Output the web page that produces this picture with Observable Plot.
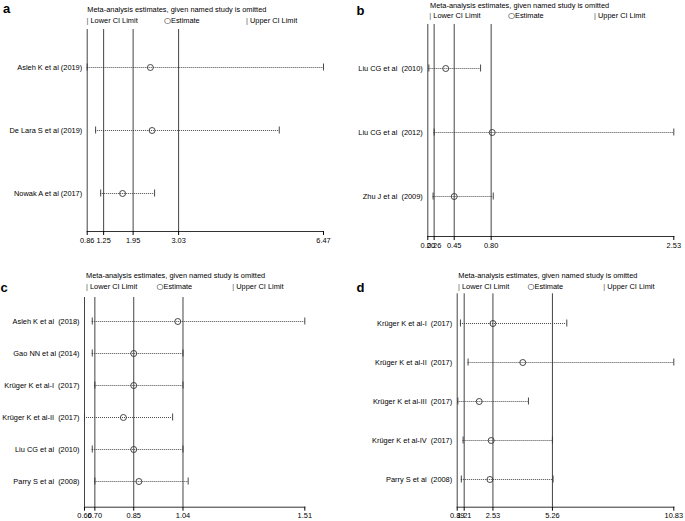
<!DOCTYPE html>
<html><head><meta charset="utf-8">
<script src="https://cdn.jsdelivr.net/npm/d3@7"></script>
<script src="https://cdn.jsdelivr.net/npm/@observablehq/plot@0.6"></script>
<style>
body{margin:0;background:#fff;}
#root{position:relative;width:685px;height:521px;overflow:hidden;font-family:"Liberation Sans",Arial,Helvetica,sans-serif;color:#000;background:#fff;}
.t{position:absolute;white-space:pre;font-size:7.4px;line-height:7.4px;}
.t .c{font-family:"DejaVu Sans",sans-serif;font-size:8px;}
.lab{position:absolute;font-weight:bold;font-size:13px;line-height:13px;}
#root svg{position:absolute;}
</style></head><body><div id="root"></div>
<script>
// Panel a
const studiesA = ["Asleh K et al (2019)", "De Lara S et al (2019)", "Nowak A et al (2017)"];
const estA = [2.36, 2.40, 1.70];
const lowerA = [0.86, 1.06, 1.18];
const upperA = [6.47, 5.42, 2.46];
const ticksA = [0.86, 1.25, 1.95, 3.03, 6.47];
// Panel b
const studiesB = ["Liu CG et al\u00a0 (2010)", "Liu CG et al\u00a0 (2012)", "Zhu J et al\u00a0 (2009)"];
const estB = [0.37, 0.81, 0.45];
const lowerB = [0.21, 0.26, 0.25];
const upperB = [0.70, 2.53, 0.82];
const ticksB = [0.20, 0.26, 0.45, 0.80, 2.53];
// Panel c
const studiesC = ["Asleh K et al\u00a0 (2018)", "Gao NN et al (2014)", "Krüger K et al-I\u00a0 (2017)", "Krüger K et al-II\u00a0 (2017)", "Liu CG et al\u00a0 (2010)", "Parry S et al\u00a0 (2008)"];
const estC = [1.02, 0.85, 0.85, 0.81, 0.85, 0.87];
const lowerC = [0.69, 0.69, 0.70, 0.66, 0.69, 0.70];
const upperC = [1.51, 1.04, 1.04, 1.00, 1.04, 1.06];
const ticksC = [0.66, 0.70, 0.85, 1.04, 1.51];
// Panel d
const studiesD = ["Krüger K et al-I\u00a0 (2017)", "Krüger K et al-II\u00a0 (2017)", "Krüger K et al-III\u00a0 (2017)", "Krüger K et al-IV\u00a0 (2017)", "Parry S et al\u00a0 (2008)"];
const estD = [2.53, 3.90, 1.90, 2.45, 2.39];
const lowerD = [1.04, 1.39, 0.92, 1.16, 1.08];
const upperD = [5.92, 10.83, 4.16, 5.26, 5.29];
const ticksD = [0.89, 1.21, 2.53, 5.26, 10.83];

const titleText = "Meta-analysis estimates, given named study is omitted";
const legendSym = ["|", "\u25CB", "|"];
const legendText = [" Lower CI Limit", "Estimate", " Upper CI Limit"];
const letters = ["a", "b", "c", "d"];

const panels = [
  {studies: studiesA, est: estA, lower: lowerA, upper: upperA, ticks: ticksA,
   left: 0, top: 0, width: 340, height: 260, mL: 86.7, mR: 17, mT: 29, mB: 29, rows: [35, 224.7],
   titleX: 87.3, titleY: 10, legY: 20.3, legX: [86.5, 164, 246], letX: 3, letY: 13.3},
  {studies: studiesB, est: estB, lower: lowerB, upper: upperB, ticks: ticksB,
   left: 340, top: 0, width: 345, height: 260, mL: 87.3, mR: 11.7, mT: 24, mB: 24, rows: [35, 228.7],
   titleX: 430, titleY: 5.3, legY: 15.5, legX: [429.3, 508, 594], letX: 356.5, letY: 15},
  {studies: studiesC, est: estC, lower: lowerC, upper: upperC, ticks: ticksC,
   left: 0, top: 260, width: 340, height: 261, mL: 84, mR: 35.7, mT: 37, mB: 14.3, rows: [41.7, 239.3],
   titleX: 86, titleY: 275.5, legY: 286.3, legX: [86, 156.5, 232.3], letX: 0.5, letY: 291.7},
  {studies: studiesD, est: estD, lower: lowerD, upper: upperD, ticks: ticksD,
   left: 340, top: 260, width: 345, height: 261, mL: 116.7, mR: 11.7, mT: 33.3, mB: 14.3, rows: [42.3, 239],
   titleX: 458.3, titleY: 275.5, legY: 286.3, legX: [458, 527.5, 603.3], letX: 356.5, letY: 291.7}
];

const root = document.getElementById("root");
const fs = 7.4;

function addText(cls, txt, x, top, sym) {
  const d = document.createElement("div");
  d.className = cls;
  if (sym) {
    const s = document.createElement("span");
    s.className = sym === "|" ? "" : "c";
    s.textContent = sym;
    if (sym === "|") s.style.color = "#555";
    d.appendChild(s);
  }
  d.appendChild(document.createTextNode(txt));
  d.style.left = x + "px";
  d.style.top = top + "px";
  root.appendChild(d);
}

panels.forEach((p, k) => {
  const rows = p.studies.map((s, i) => ({study: s, est: p.est[i], lower: p.lower[i], upper: p.upper[i]}));
  const chart = Plot.plot({
    width: p.width, height: p.height,
    marginLeft: p.mL, marginRight: p.mR, marginTop: p.mT, marginBottom: p.mB,
    x: {type: "linear", domain: [p.ticks[0], p.ticks[p.ticks.length - 1]]},
    y: {type: "point", domain: p.studies, range: p.rows},
    style: {fontSize: fs + "px", fontFamily: '"Liberation Sans", Arial, Helvetica, sans-serif', color: "#000", background: "transparent", overflow: "visible"},
    marks: [
      Plot.ruleX(p.ticks.slice(0, 4), {stroke: "#444", strokeWidth: 1}),
      Plot.frame({anchor: "bottom", stroke: "#333"}),
      Plot.ruleY(rows, {x1: "lower", x2: "upper", y: "study", stroke: "#333", strokeDasharray: "1,1", strokeWidth: 0.9}),
      Plot.ruleX(rows, {x: "lower", y1: "study", y2: "study", insetTop: -3.5, insetBottom: -3.5, stroke: "#333", strokeWidth: 0.9}),
      Plot.ruleX(rows, {x: "upper", y1: "study", y2: "study", insetTop: -3.5, insetBottom: -3.5, stroke: "#333", strokeWidth: 0.9}),
      Plot.dot(rows, {x: "est", y: "study", r: 3, stroke: "#333", strokeWidth: 0.9}),
      Plot.axisX({ticks: p.ticks, tickFormat: d3.format(".2f"), tickSize: 4, tickPadding: 2, label: null}),
      Plot.axisY({tickSize: 0, tickPadding: 5, label: null})
    ]
  });
  chart.style.left = p.left + "px";
  chart.style.top = p.top + "px";
  root.appendChild(chart);

  addText("lab", letters[k], p.letX, p.letY - 11);
  addText("t", titleText, p.titleX, p.titleY - 0.49 * fs);
  legendText.forEach((t, j) => addText("t", t, p.legX[j], p.legY - 0.49 * fs, legendSym[j]));
});
</script></body></html>
